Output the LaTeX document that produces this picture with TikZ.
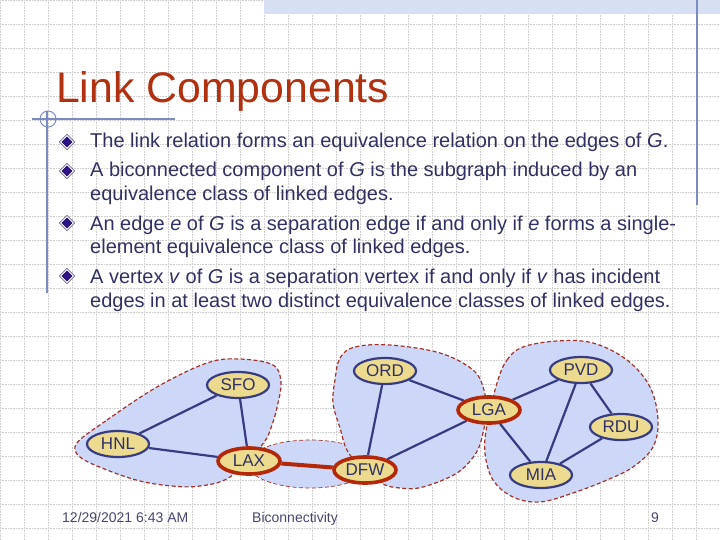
\documentclass[tikz,border=0pt]{standalone}
\usepackage{fontspec}
\setmainfont{Liberation Sans}
\usepackage{tikz}
\usetikzlibrary{shapes.geometric}
\definecolor{titlered}{RGB}{176,48,16}
\definecolor{bodycol}{RGB}{48,48,100}
\definecolor{footcol}{RGB}{70,70,110}
\definecolor{rulecol}{RGB}{125,140,190}
\definecolor{bandcol}{RGB}{215,224,243}
\definecolor{gridcol}{RGB}{205,205,205}
\definecolor{blobfill}{RGB}{205,215,248}
\definecolor{blobline}{RGB}{160,50,40}
\definecolor{nodefill}{RGB}{236,219,142}
\definecolor{navyline}{RGB}{55,60,130}
\definecolor{sepred}{RGB}{180,40,10}
\definecolor{bulletblue}{RGB}{45,20,140}
\pgfdeclarelayer{blobs}
\pgfdeclarelayer{links}
\pgfsetlayers{blobs,links,main}

\tikzset{
  vert/.style={ellipse, draw=navyline, fill=nodefill, line width=2.2pt,
    minimum width=62pt, minimum height=26pt, inner sep=0pt,
    text=bodycol, font=\fontsize{17}{17}\selectfont},
  sepvert/.style={vert, draw=sepred, line width=3.6pt},
  linkline/.style={draw=navyline, line width=2.2pt},
  seplink/.style={draw=sepred, line width=4pt},
  blob/.style={fill=blobfill, draw=blobline, dash pattern=on 4pt off 2.5pt, line width=1.2pt},
  bodytext/.style={anchor=base west, inner sep=0pt, text=bodycol,
    font=\fontsize{20}{20}\selectfont},
  bulletmark/.style={diamond, fill=bulletblue, draw=bulletblue!60!black,
    double=white, double distance=1pt, line width=0.6pt,
    minimum size=13pt, inner sep=0pt},
  foottext/.style={inner sep=0pt, text=footcol, font=\fontsize{14}{14}\selectfont}
}

\begin{document}
\begin{tikzpicture}[x=1pt, y=-1pt]
  \useasboundingbox (0,0) rectangle (720,540);
  \begin{pgfonlayer}{blobs}
  % background grid and slide decoration
  \draw[gridcol, densely dotted, line width=0.6pt, step=24pt] (0,0) grid (720,540);
  \fill[bandcol] (264,0) rectangle (720,14);
  \draw[rulecol, line width=1.2pt] (697,0) -- (697,205);
  \draw[rulecol, line width=1.2pt] (32,119) -- (175,119);
  \draw[rulecol, line width=1.2pt] (47,111) -- (47,293);
  \draw[rulecol, line width=1pt] (48,119) circle (8);
  % biconnected components
  \draw[blob] plot[smooth cycle, tension=0.6] coordinates {(77,443) (107,420) (157,387) (207,363) (240,359) (273,365) (281,382) (278,403) (272,425) (262,445) (230,477) (200,486) (172,486) (140,481) (107,470) (80,457)};
  \draw[blob, line width=0.7pt] (310,464) ellipse (62 and 24);
  \draw[blob] plot[smooth cycle, tension=0.6] coordinates {(335,380) (340,358) (355,347) (390,345) (440,353) (473,370) (484,390) (486,412) (483,433) (476,453) (457,473) (423,487) (400,488) (380,482) (350,455) (340,428) (333,403)};
  \draw[blob] plot[smooth cycle, tension=0.6] coordinates {(497,383) (507,360) (523,347) (557,341) (593,343) (627,360) (650,387) (658,420) (653,447) (633,467) (607,480) (573,493) (540,502) (513,497) (493,480) (485,453) (487,425)};
  \end{pgfonlayer}
  % title
  \node[anchor=base west, inner sep=0pt, text=titlered, font=\fontsize{42.8}{43}\selectfont] (title) at (56,103) {Link Components};
  % bullets
  \node[bulletmark] (b1) at (67,142) {};
  \node[bulletmark] (b2) at (67,171) {};
  \node[bulletmark] (b3) at (67,223) {};
  \node[bulletmark] (b4) at (67,276) {};
  \node[bodytext] (t1) at (90,148) {The link relation forms an equivalence relation on the edges of \emph{G}.};
  \node[bodytext] (t2) at (90,177) {A biconnected component of \emph{G} is the subgraph induced by an};
  \node[bodytext] (t3) at (90,201) {equivalence class of linked edges.};
  \node[bodytext] (t4) at (90,230) {An edge \emph{e} of \emph{G} is a separation edge if and only if \emph{e} forms a single-};
  \node[bodytext] (t5) at (90,254) {element equivalence class of linked edges.};
  \node[bodytext] (t6) at (90,283) {A vertex \emph{v} of \emph{G} is a separation vertex if and only if \emph{v} has incident};
  \node[bodytext] (t7) at (90,307) {edges in at least two distinct equivalence classes of linked edges.};
  % vertices
  \node[vert] (SFO) at (238,385) {SFO};
  \node[vert] (HNL) at (118,444) {HNL};
  \node[sepvert] (LAX) at (249,461) {LAX};
  \node[sepvert] (DFW) at (365,470) {DFW};
  \node[vert] (ORD) at (385,371) {ORD};
  \node[sepvert] (LGA) at (489,410) {LGA};
  \node[vert] (PVD) at (581,370) {PVD};
  \node[vert] (RDU) at (621,427) {RDU};
  \node[vert] (MIA) at (541,475) {MIA};
  % edges
  \begin{pgfonlayer}{links}
  \draw[linkline] (HNL) -- (SFO);
  \draw[linkline] (HNL) -- (LAX);
  \draw[linkline] (SFO) -- (LAX);
  \draw[seplink] (LAX) -- (DFW);
  \draw[linkline] (ORD) -- (DFW);
  \draw[linkline] (ORD) -- (LGA);
  \draw[linkline] (DFW) -- (LGA);
  \draw[linkline] (LGA) -- (PVD);
  \draw[linkline] (LGA) -- (MIA);
  \draw[linkline] (PVD) -- (MIA);
  \draw[linkline] (PVD) -- (RDU);
  \draw[linkline] (RDU) -- (MIA);
  \end{pgfonlayer}
  % footer
  \node[foottext, anchor=base west] (date) at (62,522) {12/29/2021 6:43 AM};
  \node[foottext, anchor=base] (topic) at (295,522) {Biconnectivity};
  \node[foottext, anchor=base] (page) at (655,522) {9};
\end{tikzpicture}
\end{document}
